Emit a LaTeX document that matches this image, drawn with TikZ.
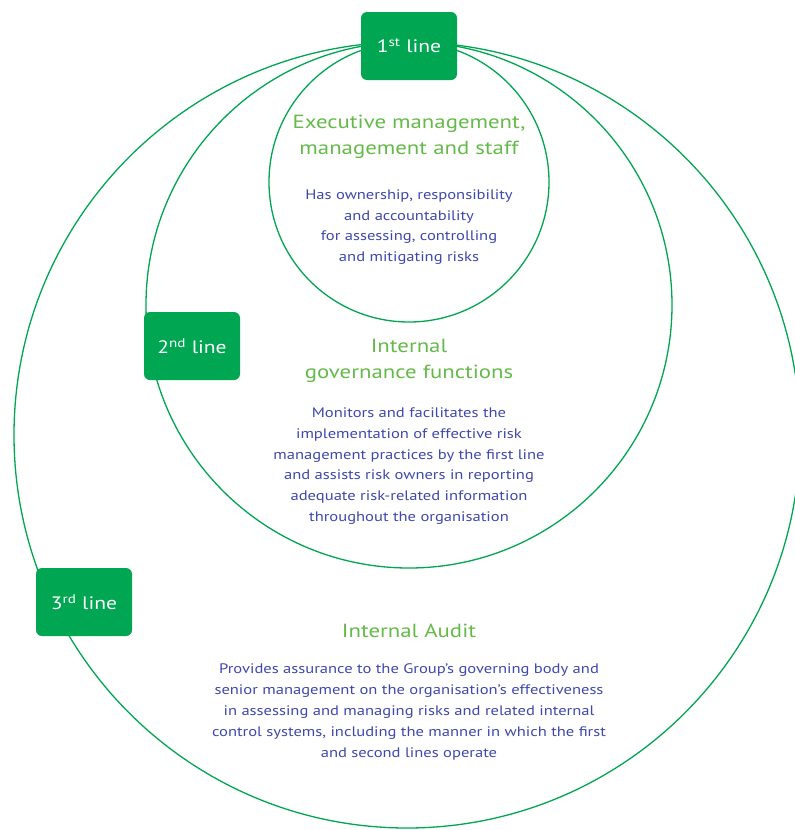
\documentclass[tikz,border=0pt]{standalone}
\usepackage{fontspec}
\setmainfont[FakeStretch=1.2]{PT Sans}
\usetikzlibrary{positioning}
\definecolor{linegreen}{RGB}{0,166,81}
\definecolor{titlegreen}{RGB}{100,186,72}
\definecolor{bodyblue}{RGB}{62,72,172}
\tikzstyle{ring}=[circle, draw=linegreen, line width=1.3pt, inner sep=0pt]
\tikzstyle{line box}=[fill=linegreen, rounded corners=6pt, minimum width=96pt, minimum height=68pt, text=white, font=\fontsize{18}{20}\selectfont]
\tikzstyle{heading}=[text=titlegreen, align=center, font=\fontsize{19}{26}\selectfont]
\tikzstyle{blurb}=[text=bodyblue, align=center, font=\fontsize{13.8}{20.8}\selectfont]

\begin{document}
\begin{tikzpicture}[x=1pt, y=-1pt]
      \useasboundingbox (0, 0) rectangle (795, 830);

      % the three lines
      \node[ring, minimum size=786pt] (audit_ring) at (407, 435) {};
      \node[ring, minimum size=526pt] (governance_ring) at (409, 305) {};
      \node[ring, minimum size=280pt] (management_ring) at (409, 182) {};

      \node[line box] (first_line) at (409, 46) {1\textsuperscript{st} line};
      \node[line box] (second_line) at (192, 346) {2\textsuperscript{nd} line};
      \node[line box] (third_line) at (84, 602) {3\textsuperscript{rd} line};

      % 1st line
      \node[heading] (management_title) at (409, 137)
        {Executive management,\\ management and staff};
      \node[blurb] (management_text) at (409, 227)
        {Has ownership, responsibility\\ and accountability\\
         for assessing, controlling\\ and mitigating risks};

      % 2nd line
      \node[heading] (governance_title) at (409, 361)
        {Internal\\ governance functions};
      \node[blurb] (governance_text) at (409, 466)
        {Monitors and facilitates the\\ implementation of effective risk\\
         management practices by the first line\\ and assists risk owners in reporting\\
         adequate risk-related information\\ throughout the organisation};

      % 3rd line
      \node[heading] (audit_title) at (409, 631) {Internal Audit};
      \node[blurb] (audit_text) at (409, 712)
        {Provides assurance to the Group's governing body and\\
         senior management on the organisation's effectiveness\\
         in assessing and managing risks and related internal\\
         control systems, including the manner in which the first\\
         and second lines operate};
    \end{tikzpicture}
\end{document}
